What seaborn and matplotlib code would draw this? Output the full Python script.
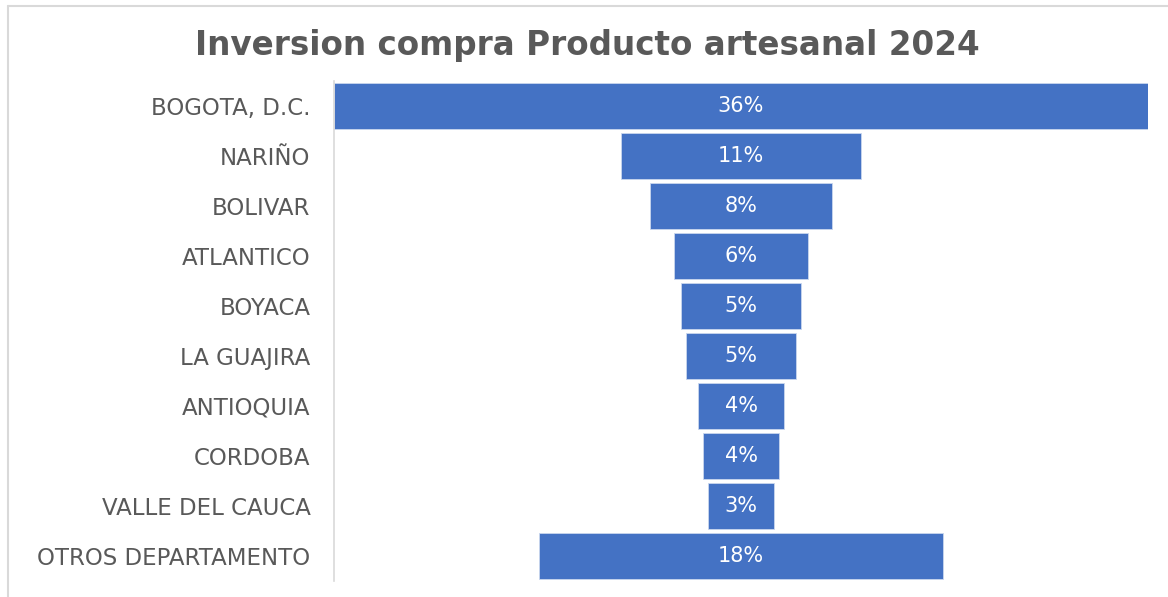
import matplotlib
matplotlib.use("Agg")
import matplotlib.pyplot as plt
import seaborn as sns
import pandas as pd
from matplotlib.lines import Line2D

# Datos (porcentaje de inversion)
departamentos = ['BOGOTA, D.C.', 'NARIÑO', 'BOLIVAR', 'ATLANTICO', 'BOYACA',
                 'LA GUAJIRA', 'ANTIOQUIA', 'CORDOBA', 'VALLE DEL CAUCA',
                 'OTROS DEPARTAMENTO']
porcentajes = [36.0, 10.6, 8.05, 5.9, 5.3, 4.9, 3.8, 3.4, 2.9, 17.9]
etiquetas = ['36%', '11%', '8%', '6%', '5%', '5%', '4%', '4%', '3%', '18%']

BLUE = '#4472C4'
GRAY = '#595959'

sns.set_theme(style='white')
plt.rcParams['font.family'] = ['DejaVu Sans']

df = pd.DataFrame({'depto': departamentos, 'pct': porcentajes})

fig = plt.figure(figsize=(11.68, 5.97), dpi=100)
ax = fig.add_axes([334 / 1168, 1 - 581 / 597, 814 / 1168, 500 / 597])

sns.barplot(data=df, x='pct', y='depto', color=BLUE, saturation=1,
            width=0.92, ax=ax, edgecolor='#c9d6ee', linewidth=0.6)

# centrar cada barra para formar el embudo
for patch, lab in zip(ax.patches, etiquetas):
    w = patch.get_width()
    patch.set_x(-w / 2)
    ax.text(0, patch.get_y() + patch.get_height() / 2, lab, ha='center',
            va='center', color='white', fontsize=15)

half = max(porcentajes) / 2
ax.set_xlim(-half, half)
ax.set_ylim(len(departamentos) - 0.5, -0.5)
ax.set_xlabel('')
ax.set_ylabel('')
ax.set_xticks([])
ax.tick_params(axis='y', length=0, pad=17, labelsize=16.5, labelcolor=GRAY)
for s in ['top', 'right', 'bottom']:
    ax.spines[s].set_visible(False)
ax.spines['left'].set_color('#d9d9d9')
ax.spines['left'].set_linewidth(1.2)

fig.text(0.503, 1 - 46 / 597, 'Inversion compra Producto artesanal 2024',
         ha='center', va='center', fontsize=23.5, fontweight='bold', color=GRAY)

# marco del grafico (solo arriba e izquierda visibles)
fig.add_artist(Line2D([8 / 1168, 1], [1 - 6 / 597, 1 - 6 / 597],
                      transform=fig.transFigure, color='#d9d9d9', lw=1.5))
fig.add_artist(Line2D([8 / 1168, 8 / 1168], [0, 1 - 6 / 597],
                      transform=fig.transFigure, color='#d9d9d9', lw=1.5))

fig.savefig('out.png', dpi=100)
